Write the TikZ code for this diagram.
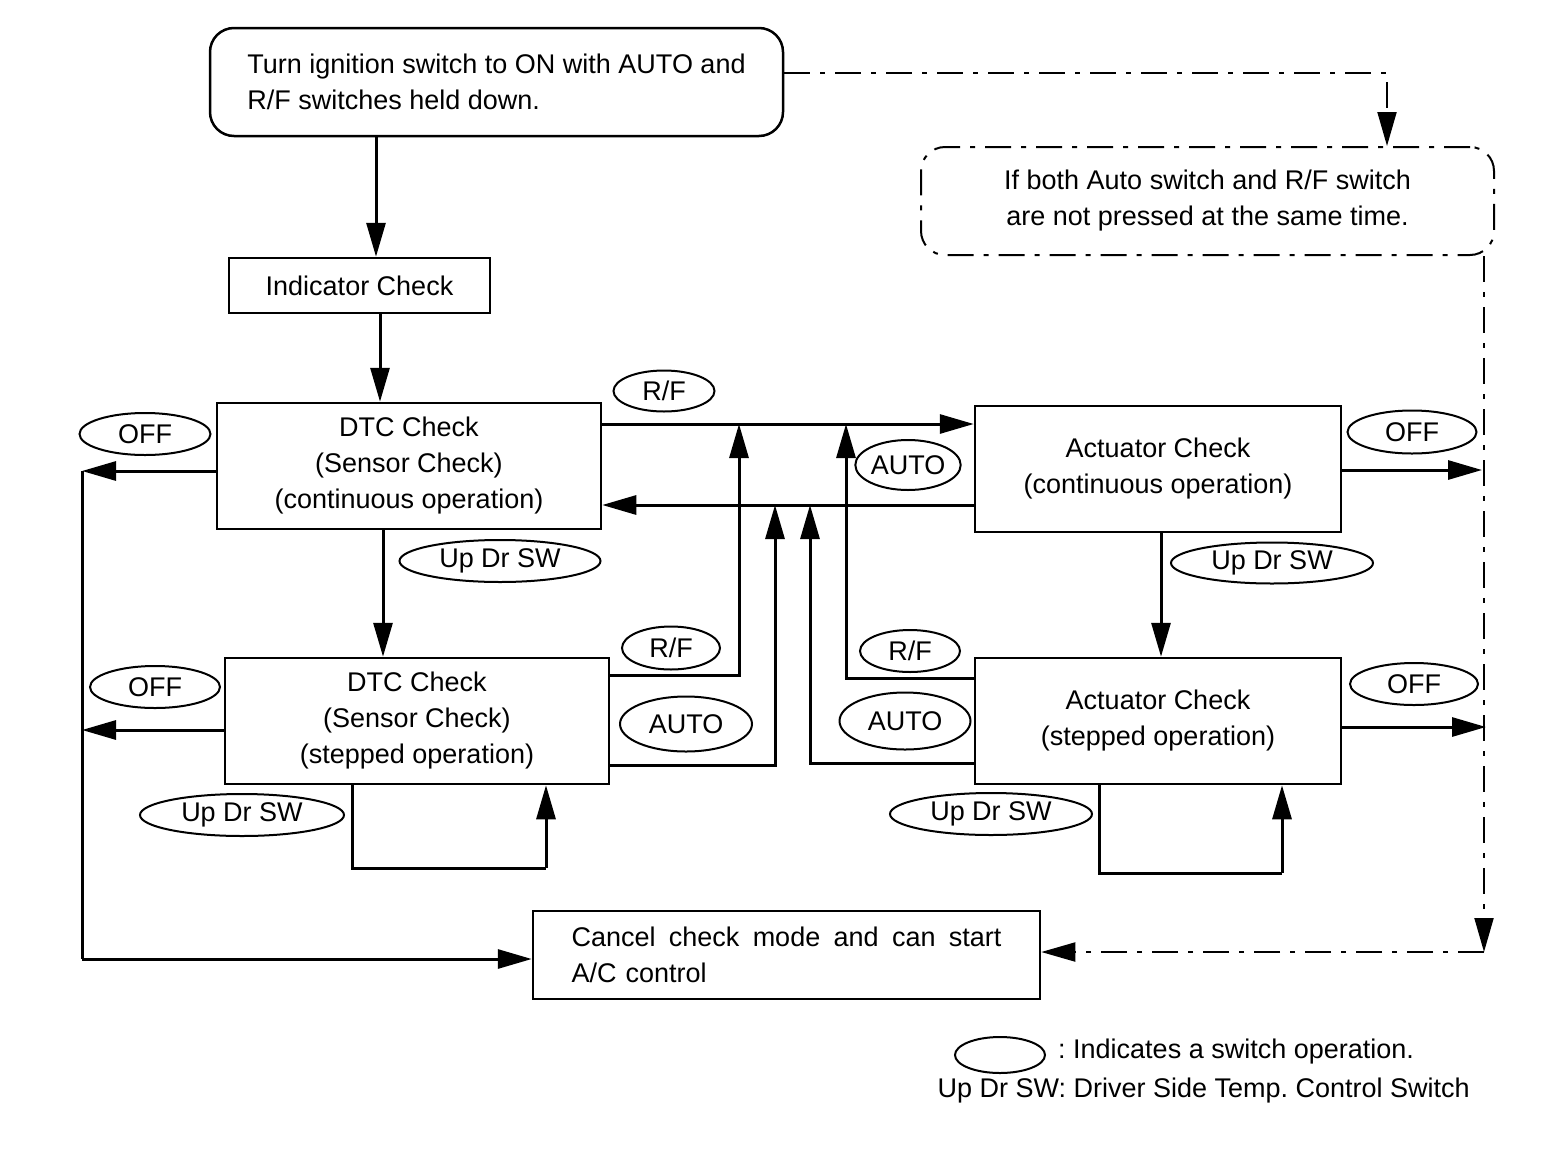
\documentclass[tikz,border=0pt]{standalone}
\usepackage{fontspec}
\setmainfont{Liberation Sans}
\usetikzlibrary{shapes.geometric, arrows.meta}
\tikzstyle{every node}=[font=\fontsize{27}{36}\selectfont, inner sep=0pt]
\tikzstyle{box}=[draw, line width=2.5pt, align=center]
\tikzstyle{roundbox}=[draw, line width=2.5pt, rounded corners=24pt, align=center]
\tikzstyle{swoval}=[draw, ellipse, line width=2pt]
\tikzstyle{wire}=[line width=3pt]
\tikzstyle{flow}=[wire, -{Triangle[length=34pt, width=19pt]}]
\tikzstyle{chainline}=[line width=2pt, dash pattern=on 26pt off 10pt on 5pt off 10pt]

\begin{document}
\frenchspacing
\begin{tikzpicture}[x=1pt, y=-1pt]
    \useasboundingbox (0,0) rectangle (1568,1154);
% Boxes
    \node[roundbox, minimum width=573pt, minimum height=108pt, align=left] (start) at (496.5,82) {Turn ignition switch to ON with AUTO and\\R/F switches held down.};
    \node[roundbox, chainline, minimum width=573pt, minimum height=108pt] (ifbox) at (1207.5,201) {If both Auto switch and R/F switch\\are not pressed at the same time.};
    \node[box, minimum width=261pt, minimum height=55pt] (ind) at (359.5,285.5) {Indicator Check};
    \node[box, minimum width=384pt, minimum height=126pt] (dtcc) at (409,466) {DTC Check\\(Sensor Check)\\(continuous operation)};
    \node[box, minimum width=384pt, minimum height=126pt] (dtcs) at (417,721) {DTC Check\\(Sensor Check)\\(stepped operation)};
    \node[box, minimum width=366pt, minimum height=126pt] (actc) at (1158,469) {Actuator Check\\(continuous operation)};
    \node[box, minimum width=366pt, minimum height=126pt] (acts) at (1158,721) {Actuator Check\\(stepped operation)};
    \node[box, minimum width=507pt, minimum height=88pt, text width=430pt, align=left] (cancel) at (786.5,955) {Cancel\hfill check\hfill mode\hfill and\hfill can\hfill start\\A/C control};
% Switch operations
    \node[swoval, minimum width=131pt, minimum height=42pt] (off1) at (145,434) {OFF};
    \node[swoval, minimum width=101pt, minimum height=41pt] (rf1) at (664,391) {R/F};
    \node[swoval, minimum width=96pt, minimum height=50pt] (auto1) at (908,465) {AUTO};
    \node[swoval, minimum width=129pt, minimum height=43pt] (off2) at (1412,432) {OFF};
    \node[swoval, minimum width=201pt, minimum height=42pt] (updr1) at (500,561) {Up Dr SW};
    \node[swoval, minimum width=202pt, minimum height=41pt] (updr2) at (1272,563) {Up Dr SW};
    \node[swoval, minimum width=130pt, minimum height=42pt] (off3) at (155,687) {OFF};
    \node[swoval, minimum width=98pt, minimum height=43pt] (rf2) at (671,648) {R/F};
    \node[swoval, minimum width=132pt, minimum height=55pt] (auto2) at (686,724) {AUTO};
    \node[swoval, minimum width=100pt, minimum height=42pt] (rf3) at (910,651) {R/F};
    \node[swoval, minimum width=131pt, minimum height=57pt] (auto3) at (905,721) {AUTO};
    \node[swoval, minimum width=128pt, minimum height=42pt] (off4) at (1414,684) {OFF};
    \node[swoval, minimum width=204pt, minimum height=42pt] (updr3) at (242,815) {Up Dr SW};
    \node[swoval, minimum width=202pt, minimum height=42pt] (updr4) at (991,814) {Up Dr SW};
% Junction points
    \coordinate (c1) at (376,0);
    \coordinate (c2) at (380,0);
    \coordinate (c3) at (383,0);
    \coordinate (c4) at (1161,0);
    \coordinate (up) at (0,424);
    \coordinate (lo) at (0,505);
    \coordinate (r1) at (739,675);
    \coordinate (r2) at (775,765);
    \coordinate (r3) at (810,763);
    \coordinate (r4) at (846,678);
    \coordinate (wb1) at (82,471);
    \coordinate (wb2) at (82,730);
    \coordinate (wb) at (82,959);
    \coordinate (eb1) at (1482,470);
    \coordinate (eb2) at (1486,727);
    \coordinate (eb) at (1484,952);
    \coordinate (tp) at (1387,73);
    \coordinate (l1) at (352,868);
    \coordinate (l2) at (546,868);
    \coordinate (l3) at (1099,873);
    \coordinate (l4) at (1282,873);
% Main flow
    \draw[flow] (start.south -| c1) -- (ind.north -| c1);
    \draw[flow] (ind.south -| c2) -- (dtcc.north -| c2);
    \draw[flow] (dtcc.south -| c3) -- (dtcs.north -| c3);
    \draw[flow] (actc.south -| c4) -- (acts.north -| c4);
    \draw[flow] (dtcc.east |- up) -- (actc.west |- up);
    \draw[flow] (actc.west |- lo) -- (dtcc.east |- lo);
    \draw[flow] (dtcs.east |- r1) -| (r1 |- up);
    \draw[flow] (dtcs.east |- r2) -| (r2 |- lo);
    \draw[flow] (acts.west |- r3) -| (r3 |- lo);
    \draw[flow] (acts.west |- r4) -| (r4 |- up);
% Up Dr SW loops
    \draw[wire] (dtcs.south -| l1) |- (l2);
    \draw[flow] (l2) -- (dtcs.south -| l2);
    \draw[wire] (acts.south -| l3) |- (l4);
    \draw[flow] (l4) -- (acts.south -| l4);
% OFF exits
    \draw[flow] (dtcc.west |- wb1) -- (wb1);
    \draw[flow] (dtcs.west |- wb2) -- (wb2);
    \draw[wire] (wb1) -- (wb);
    \draw[flow] (wb) -- (cancel.west |- wb);
    \draw[flow] (actc.east |- eb1) -- (eb1);
    \draw[flow] (acts.east |- eb2) -- (eb2);
% Switches not pressed together
    \draw[chainline, -{Triangle[length=34pt, width=19pt]}] (start.east |- tp) -| (tp |- ifbox.north);
    \draw[chainline, -{Triangle[length=34pt, width=19pt]}] (eb |- ifbox.south) -- (eb);
    \draw[chainline, -{Triangle[length=34pt, width=19pt]}] (eb) -- (cancel.east |- eb);
% Legend
    \node[swoval, minimum width=90pt, minimum height=36pt] (key) at (1000,1055) {};
    \node[anchor=west] (keytxt) at ([xshift=12pt, yshift=3pt]key.east) {: Indicates a switch operation.};
    \node[anchor=east] (keynote) at (1470,1091) {Up Dr SW: Driver Side Temp. Control Switch};
\end{tikzpicture}
\end{document}
